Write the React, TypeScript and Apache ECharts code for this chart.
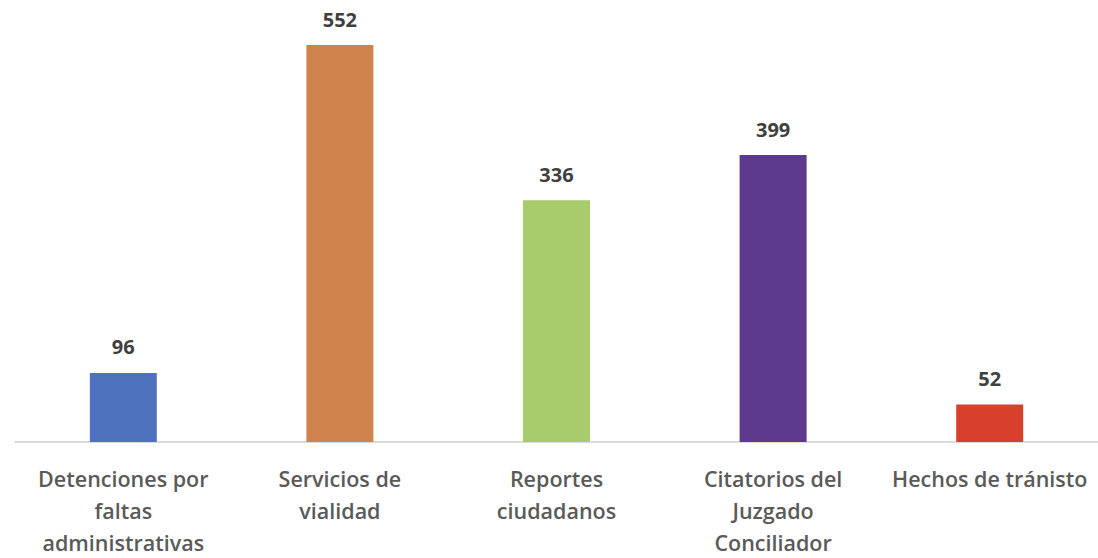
import React, { useEffect, useRef } from "react";
import * as echarts from "echarts";

const categories = [
  "Detenciones por\nfaltas\nadministrativas",
  "Servicios de\nvialidad",
  "Reportes\nciudadanos",
  "Citatorios del\nJuzgado\nConciliador",
  "Hechos de tránisto",
];
const values = [96, 552, 336, 399, 52];
const colors = ["#4E72BE", "#D0834D", "#A8CB6C", "#5E3A8F", "#D8402E"];

export default function App() {
  const ref = useRef<HTMLDivElement>(null);
  useEffect(() => {
    if (!ref.current) return;
    const chart = echarts.init(ref.current, null, { renderer: "svg" });
    chart.setOption({
      animation: false,
      backgroundColor: "#ffffff",
      grid: { left: 15, right: 0, top: 45, bottom: 111, containLabel: false },
      xAxis: {
        type: "category",
        data: categories,
        axisLine: { lineStyle: { color: "#D0D0D0", width: 1.5 } },
        axisTick: { show: false },
        axisLabel: {
          interval: 0,
          margin: 20,
          color: "#5A5A5A",
          fontFamily: "Open Sans",
          fontWeight: 600,
          fontSize: 21.5,
          lineHeight: 32,
        },
      },
      yAxis: {
        type: "value",
        min: 0,
        max: 552,
        show: false,
        splitLine: { show: false },
      },
      series: [
        {
          type: "bar",
          barWidth: 67,
          data: values.map((v, i) => ({ value: v, itemStyle: { color: colors[i] } })),
          label: {
            show: true,
            position: "top",
            distance: 16,
            color: "#404040",
            fontFamily: "Open Sans",
            fontWeight: "bold",
            fontSize: 20,
          },
        },
      ],
    });
    return () => chart.dispose();
  }, []);
  return (
    <div
      ref={ref}
      style={{ position: "absolute", left: 0, top: 0, width: 1098, height: 558 }}
    />
  );
}
